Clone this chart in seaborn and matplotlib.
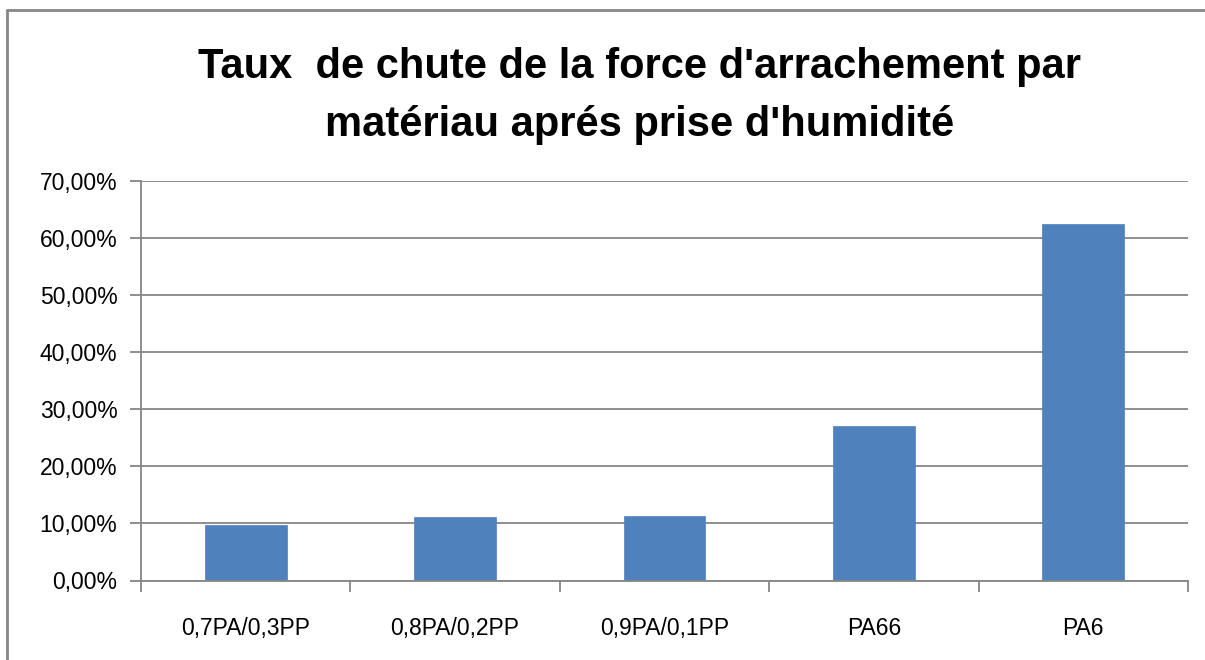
import matplotlib
matplotlib.use("Agg")
import matplotlib.pyplot as plt
from matplotlib.lines import Line2D
from matplotlib.ticker import FixedLocator, FuncFormatter
import seaborn as sns
import pandas as pd

# Data
materials = ["0,7PA/0,3PP", "0,8PA/0,2PP", "0,9PA/0,1PP", "PA66", "PA6"]
drop_rate = [0.097, 0.112, 0.113, 0.270, 0.625]
y_ticks = [0.0, 0.1, 0.2, 0.3, 0.4, 0.5, 0.6, 0.7]

sns.set_theme(style="white")
narrow = ["Liberation Sans Narrow", "Liberation Sans", "DejaVu Sans"]
plt.rcParams["font.family"] = narrow

df = pd.DataFrame({"material": materials, "rate": drop_rate})

W, H, DPI = 1205, 660, 100
fig = plt.figure(figsize=(W / DPI, H / DPI), dpi=DPI)
ax = fig.add_axes([141 / W, 1 - 580.5 / H, (1188 - 141) / W, (580.5 - 181) / H])

sns.barplot(data=df, x="material", y="rate", color="#4F81BD", saturation=1,
            width=0.39, ax=ax, edgecolor="#4F81BD", linewidth=0.5)

ax.set_xlim(-0.5, len(materials) - 0.5)
ax.set_ylim(0, 0.7)
ax.set_xlabel("")
ax.set_ylabel("")

ax.yaxis.set_major_locator(FixedLocator(y_ticks))
ax.yaxis.set_major_formatter(FuncFormatter(lambda v, p: f"{v*100:.2f}%".replace(".", ",")))
ax.grid(axis="y", color="#868686", linewidth=1.3)
ax.set_axisbelow(True)

for side in ["top", "right"]:
    ax.spines[side].set_visible(False)
for side in ["left", "bottom"]:
    ax.spines[side].set_color("#868686")
    ax.spines[side].set_linewidth(1.3)

# Category separators as tick marks on the x axis
ax.xaxis.set_minor_locator(FixedLocator([i - 0.5 for i in range(len(materials) + 1)]))
ax.tick_params(axis="x", which="major", length=0, pad=26, labelsize=16.5, labelcolor="black")
ax.tick_params(axis="x", which="minor", length=8, width=1.3, color="#868686", direction="out", bottom=True)
ax.tick_params(axis="y", which="major", length=8, width=1.3, color="#868686", direction="out",
               left=True, pad=9, labelsize=16.5, labelcolor="black")

fig.text(640 / W, 1 - 96 / H,
         "Taux  de chute de la force d'arrachement par\nmatériau aprés prise d'humidité",
         ha="center", va="center", fontsize=30, fontweight="bold", linespacing=1.55,
         color="black", family=narrow)

# Chart frame
fig.add_artist(Line2D([7 / W, 1.0], [1 - 10 / H, 1 - 10 / H], transform=fig.transFigure,
                      color="#868686", linewidth=2))
fig.add_artist(Line2D([7 / W, 7 / W], [0.0, 1 - 10 / H], transform=fig.transFigure,
                      color="#868686", linewidth=2))

fig.savefig("out.png", dpi=DPI, facecolor="white")
